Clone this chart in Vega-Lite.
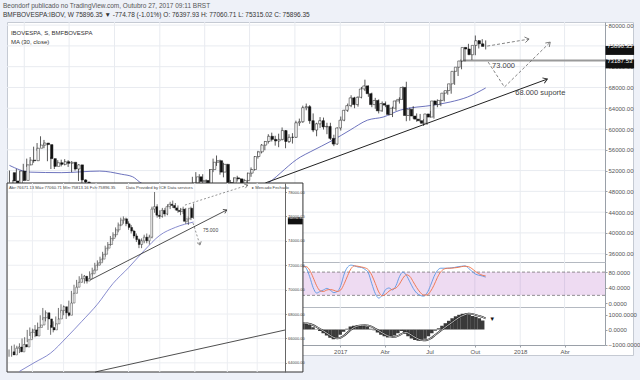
{
"$schema": "https://vega.github.io/schema/vega-lite/v6.json",
"width": 626,
"height": 333,
"autosize": {"type": "none"},
"padding": {"left": 7, "top": 22, "right": 7, "bottom": 25},
"background": "#eef1f8",
"config": {"view": {"fill": "#ffffff", "stroke": "#c5cad3", "strokeWidth": 1}, "font": "Liberation Sans"},
"title": {"text": "Beondorf publicado no TradingView.com, Outubro 27, 2017 09:11 BRST", "subtitle": "BMFBOVESPA:IBOV, W  75896.35 ▼ -774.78 (-1.01%)  O: 76397.93  H: 77060.71  L: 75315.02  C: 75896.35", "anchor": "start", "frame": "group", "dx": -4, "offset": 3, "font": "Liberation Sans", "fontSize": 6.5, "fontWeight": "normal", "color": "#555555", "subtitleFont": "Liberation Sans", "subtitleFontSize": 6.5, "subtitleFontWeight": "normal", "subtitleColor": "#333333", "subtitlePadding": 3},
"datasets": {
"w": [
{"d":"2015-03-02","o":51600,"h":52000,"l":49700,"c":50000},
{"d":"2015-03-09","o":50000,"h":50200,"l":47900,"c":48600},
{"d":"2015-03-16","o":48600,"h":52300,"l":48500,"c":51900},
{"d":"2015-03-23","o":51900,"h":52000,"l":50000,"c":50100},
{"d":"2015-03-30","o":50100,"h":53300,"l":50000,"c":53100},
{"d":"2015-04-06","o":53100,"h":54300,"l":52700,"c":54000},
{"d":"2015-04-13","o":54000,"h":54600,"l":53000,"c":53900},
{"d":"2015-04-20","o":53900,"h":56600,"l":53500,"c":56300},
{"d":"2015-04-27","o":56300,"h":57300,"l":55800,"c":56900},
{"d":"2015-05-04","o":56900,"h":58600,"l":56500,"c":57300},
{"d":"2015-05-11","o":57300,"h":57900,"l":56300,"c":57000},
{"d":"2015-05-18","o":57000,"h":57200,"l":53800,"c":54300},
{"d":"2015-05-25","o":54300,"h":54600,"l":52300,"c":52800},
{"d":"2015-06-01","o":52800,"h":53900,"l":52300,"c":53500},
{"d":"2015-06-08","o":53500,"h":54000,"l":52900,"c":53200},
{"d":"2015-06-15","o":53200,"h":54100,"l":52800,"c":53700},
{"d":"2015-06-22","o":53700,"h":54200,"l":53000,"c":53400},
{"d":"2015-06-29","o":53400,"h":54000,"l":52700,"c":53600},
{"d":"2015-07-06","o":53600,"h":53800,"l":51700,"c":52300},
{"d":"2015-07-13","o":52300,"h":53400,"l":52000,"c":53100},
{"d":"2015-07-20","o":53100,"h":53200,"l":50000,"c":50200},
{"d":"2015-07-27","o":50200,"h":51200,"l":49400,"c":49800},
{"d":"2015-08-03","o":49800,"h":50300,"l":48400,"c":48600},
{"d":"2015-08-10","o":48600,"h":49100,"l":47100,"c":48000},
{"d":"2015-08-17","o":48000,"h":48300,"l":46400,"c":46600},
{"d":"2015-08-24","o":46600,"h":47800,"l":44200,"c":47200},
{"d":"2015-08-31","o":47200,"h":47400,"l":45900,"c":46500},
{"d":"2015-09-07","o":46500,"h":47300,"l":45700,"c":46400},
{"d":"2015-09-14","o":46400,"h":48200,"l":46000,"c":47300},
{"d":"2015-09-21","o":47300,"h":47400,"l":44100,"c":45100},
{"d":"2015-09-28","o":45100,"h":47200,"l":44500,"c":47000},
{"d":"2015-10-05","o":47000,"h":48900,"l":46800,"c":47400},
{"d":"2015-10-12","o":47400,"h":48000,"l":46200,"c":47200},
{"d":"2015-10-19","o":47200,"h":48100,"l":46400,"c":47600},
{"d":"2015-10-26","o":47600,"h":47700,"l":45600,"c":45900},
{"d":"2015-11-02","o":45900,"h":47100,"l":45300,"c":46400},
{"d":"2015-11-09","o":46400,"h":47100,"l":45600,"c":46300},
{"d":"2015-11-16","o":46300,"h":48300,"l":46200,"c":47800},
{"d":"2015-11-23","o":47800,"h":48000,"l":44900,"c":45100},
{"d":"2015-11-30","o":45100,"h":46500,"l":44400,"c":45400},
{"d":"2015-12-07","o":45400,"h":45500,"l":44000,"c":44800},
{"d":"2015-12-14","o":44800,"h":45800,"l":43200,"c":43900},
{"d":"2015-12-21","o":43900,"h":44000,"l":43000,"c":43700},
{"d":"2015-12-28","o":43700,"h":43800,"l":42900,"c":43400},
{"d":"2016-01-04","o":43400,"h":43400,"l":40900,"c":41800},
{"d":"2016-01-11","o":41800,"h":42000,"l":38500,"c":38600},
{"d":"2016-01-18","o":38600,"h":39700,"l":37500,"c":38000},
{"d":"2016-01-25","o":38000,"h":40600,"l":37000,"c":40400},
{"d":"2016-02-01","o":40400,"h":41100,"l":39200,"c":40600},
{"d":"2016-02-08","o":40600,"h":40700,"l":39300,"c":40100},
{"d":"2016-02-15","o":40100,"h":42300,"l":40000,"c":41500},
{"d":"2016-02-22","o":41500,"h":42400,"l":40500,"c":42100},
{"d":"2016-02-29","o":42100,"h":49100,"l":41800,"c":49000},
{"d":"2016-03-07","o":49000,"h":50800,"l":47900,"c":49600},
{"d":"2016-03-14","o":49600,"h":51700,"l":47800,"c":50800},
{"d":"2016-03-21","o":50800,"h":51300,"l":49000,"c":49900},
{"d":"2016-03-28","o":49900,"h":51300,"l":48600,"c":50100},
{"d":"2016-04-04","o":50100,"h":50300,"l":47900,"c":48800},
{"d":"2016-04-11","o":48800,"h":52300,"l":48700,"c":52200},
{"d":"2016-04-18","o":52200,"h":54300,"l":51700,"c":53600},
{"d":"2016-04-25","o":53600,"h":54900,"l":52900,"c":53900},
{"d":"2016-05-02","o":53900,"h":54100,"l":51200,"c":51700},
{"d":"2016-05-09","o":51700,"h":53500,"l":50700,"c":53200},
{"d":"2016-05-16","o":53200,"h":53300,"l":49400,"c":49700},
{"d":"2016-05-23","o":49700,"h":50200,"l":48700,"c":49300},
{"d":"2016-05-30","o":49300,"h":50700,"l":48500,"c":50600},
{"d":"2016-06-06","o":50600,"h":51000,"l":49900,"c":50400},
{"d":"2016-06-13","o":50400,"h":50500,"l":48900,"c":49500},
{"d":"2016-06-20","o":49500,"h":50400,"l":48800,"c":50100},
{"d":"2016-06-27","o":50100,"h":51600,"l":49000,"c":51500},
{"d":"2016-07-04","o":51500,"h":52600,"l":50800,"c":52200},
{"d":"2016-07-11","o":52200,"h":54800,"l":52000,"c":54700},
{"d":"2016-07-18","o":54700,"h":55800,"l":54300,"c":55600},
{"d":"2016-07-25","o":55600,"h":57100,"l":55300,"c":56900},
{"d":"2016-08-01","o":56900,"h":57700,"l":55900,"c":57600},
{"d":"2016-08-08","o":57600,"h":59000,"l":57200,"c":58600},
{"d":"2016-08-15","o":58600,"h":59300,"l":57600,"c":58000},
{"d":"2016-08-22","o":58000,"h":58700,"l":56800,"c":57700},
{"d":"2016-08-29","o":57700,"h":59100,"l":56500,"c":58000},
{"d":"2016-09-05","o":58000,"h":60300,"l":57800,"c":59700},
{"d":"2016-09-12","o":59700,"h":59800,"l":56300,"c":57600},
{"d":"2016-09-19","o":57600,"h":59000,"l":57300,"c":58400},
{"d":"2016-09-26","o":58400,"h":59200,"l":57200,"c":58400},
{"d":"2016-10-03","o":58400,"h":61600,"l":58300,"c":61200},
{"d":"2016-10-10","o":61200,"h":62000,"l":60600,"c":61400},
{"d":"2016-10-17","o":61400,"h":64500,"l":61200,"c":64100},
{"d":"2016-10-24","o":64100,"h":64900,"l":63600,"c":64300},
{"d":"2016-10-31","o":64300,"h":64600,"l":61000,"c":61600},
{"d":"2016-11-07","o":61600,"h":63000,"l":59400,"c":59800},
{"d":"2016-11-14","o":59800,"h":61200,"l":58600,"c":61000},
{"d":"2016-11-21","o":61000,"h":62300,"l":60200,"c":61600},
{"d":"2016-11-28","o":61600,"h":62200,"l":59900,"c":60400},
{"d":"2016-12-05","o":60400,"h":61200,"l":59000,"c":60500},
{"d":"2016-12-12","o":60500,"h":61200,"l":57900,"c":58200},
{"d":"2016-12-19","o":58200,"h":58900,"l":56700,"c":57100},
{"d":"2016-12-26","o":57100,"h":60300,"l":57000,"c":60200},
{"d":"2017-01-02","o":60200,"h":62400,"l":59700,"c":61700},
{"d":"2017-01-09","o":61700,"h":63700,"l":61500,"c":63600},
{"d":"2017-01-16","o":63600,"h":64900,"l":63300,"c":64500},
{"d":"2017-01-23","o":64500,"h":66500,"l":64200,"c":66000},
{"d":"2017-01-30","o":66000,"h":66200,"l":64000,"c":64700},
{"d":"2017-02-06","o":64700,"h":66300,"l":64300,"c":66100},
{"d":"2017-02-13","o":66100,"h":68100,"l":65900,"c":67700},
{"d":"2017-02-20","o":67700,"h":69500,"l":67300,"c":68300},
{"d":"2017-02-27","o":68300,"h":68400,"l":66200,"c":66800},
{"d":"2017-03-06","o":66800,"h":67000,"l":64200,"c":64700},
{"d":"2017-03-13","o":64700,"h":66000,"l":63900,"c":65500},
{"d":"2017-03-20","o":65500,"h":65700,"l":63000,"c":63500},
{"d":"2017-03-27","o":63500,"h":65300,"l":63300,"c":64900},
{"d":"2017-04-03","o":64900,"h":65300,"l":64200,"c":64600},
{"d":"2017-04-10","o":64600,"h":64700,"l":62600,"c":62800},
{"d":"2017-04-17","o":62800,"h":64300,"l":62300,"c":64000},
{"d":"2017-04-24","o":64000,"h":65500,"l":63500,"c":65400},
{"d":"2017-05-01","o":65400,"h":66100,"l":64900,"c":65700},
{"d":"2017-05-08","o":65700,"h":68200,"l":65600,"c":68000},
{"d":"2017-05-15","o":68000,"h":69100,"l":61500,"c":62600},
{"d":"2017-05-22","o":62600,"h":64100,"l":61600,"c":63800},
{"d":"2017-05-29","o":63800,"h":64400,"l":62000,"c":62500},
{"d":"2017-06-05","o":62500,"h":63000,"l":61400,"c":61900},
{"d":"2017-06-12","o":61900,"h":62900,"l":61300,"c":61600},
{"d":"2017-06-19","o":61600,"h":61900,"l":60600,"c":61100},
{"d":"2017-06-26","o":61100,"h":62900,"l":60800,"c":62900},
{"d":"2017-07-03","o":62900,"h":63500,"l":62200,"c":62300},
{"d":"2017-07-10","o":62300,"h":65500,"l":62000,"c":65400},
{"d":"2017-07-17","o":65400,"h":65700,"l":64200,"c":64700},
{"d":"2017-07-24","o":64700,"h":65700,"l":64400,"c":65500},
{"d":"2017-07-31","o":65500,"h":67300,"l":65300,"c":66900},
{"d":"2017-08-07","o":66900,"h":68100,"l":66600,"c":67400},
{"d":"2017-08-14","o":67400,"h":68700,"l":66800,"c":68700},
{"d":"2017-08-21","o":68700,"h":71300,"l":68500,"c":71100},
{"d":"2017-08-28","o":71100,"h":72000,"l":70200,"c":71900},
{"d":"2017-09-04","o":71900,"h":73400,"l":71500,"c":73100},
{"d":"2017-09-11","o":73100,"h":75800,"l":73000,"c":75700},
{"d":"2017-09-18","o":75700,"h":76400,"l":74800,"c":75400},
{"d":"2017-09-25","o":75400,"h":75600,"l":73300,"c":74300},
{"d":"2017-10-02","o":74300,"h":78000,"l":74200,"c":76100},
{"d":"2017-10-09","o":76100,"h":77100,"l":75500,"c":77000},
{"d":"2017-10-16","o":77000,"h":77300,"l":76000,"c":76400},
{"d":"2017-10-23","o":76397.93,"h":77060.71,"l":75315.02,"c":75896.35}
],
"ma": [
{"d":"2015-03-02","v":53000},{"d":"2015-04-13","v":51700},{"d":"2015-06-15","v":51600},{"d":"2015-09-01","v":51900},{"d":"2015-10-15","v":51300},{"d":"2015-11-07","v":50800},{"d":"2015-11-21","v":49800},{"d":"2016-01-15","v":47200},{"d":"2016-03-15","v":45200},{"d":"2016-05-15","v":45500},{"d":"2016-07-01","v":47300},{"d":"2016-08-08","v":49600},{"d":"2016-10-12","v":54600},{"d":"2016-11-01","v":55600},{"d":"2016-12-18","v":57900},{"d":"2017-01-21","v":59800},{"d":"2017-02-25","v":61700},{"d":"2017-03-29","v":62300},{"d":"2017-05-03","v":63650},{"d":"2017-07-09","v":64600},{"d":"2017-08-12","v":65200},{"d":"2017-09-16","v":66150},{"d":"2017-10-23","v":67900}
],
"st": [
{"d":"2016-09-26","k":80,"dd":85},{"d":"2016-10-03","k":88,"dd":84},{"d":"2016-10-10","k":93,"dd":89},{"d":"2016-10-17","k":97,"dd":93},{"d":"2016-10-24","k":90,"dd":94},{"d":"2016-10-31","k":68,"dd":85},{"d":"2016-11-07","k":40,"dd":66},{"d":"2016-11-14","k":26,"dd":45},{"d":"2016-11-21","k":30,"dd":32},{"d":"2016-11-28","k":34,"dd":30},{"d":"2016-12-05","k":38,"dd":34},{"d":"2016-12-12","k":33,"dd":35},{"d":"2016-12-19","k":27,"dd":33},{"d":"2016-12-26","k":30,"dd":30},{"d":"2017-01-02","k":45,"dd":34},{"d":"2017-01-09","k":75,"dd":50},{"d":"2017-01-16","k":93,"dd":71},{"d":"2017-01-23","k":98,"dd":89},{"d":"2017-01-30","k":96,"dd":96},{"d":"2017-02-06","k":93,"dd":95},{"d":"2017-02-13","k":92,"dd":93},{"d":"2017-02-20","k":87,"dd":91},{"d":"2017-02-27","k":78,"dd":86},{"d":"2017-03-06","k":50,"dd":72},{"d":"2017-03-13","k":25,"dd":51},{"d":"2017-03-20","k":13,"dd":29},{"d":"2017-03-27","k":20,"dd":19},{"d":"2017-04-03","k":35,"dd":23},{"d":"2017-04-10","k":39,"dd":31},{"d":"2017-04-17","k":34,"dd":36},{"d":"2017-04-24","k":45,"dd":39},{"d":"2017-05-01","k":68,"dd":49},{"d":"2017-05-08","k":80,"dd":64},{"d":"2017-05-15","k":72,"dd":73},{"d":"2017-05-22","k":55,"dd":69},{"d":"2017-05-29","k":38,"dd":55},{"d":"2017-06-05","k":26,"dd":40},{"d":"2017-06-12","k":20,"dd":28},{"d":"2017-06-19","k":18,"dd":21},{"d":"2017-06-26","k":26,"dd":21},{"d":"2017-07-03","k":45,"dd":30},{"d":"2017-07-10","k":68,"dd":46},{"d":"2017-07-17","k":84,"dd":66},{"d":"2017-07-24","k":90,"dd":81},{"d":"2017-07-31","k":90,"dd":88},{"d":"2017-08-07","k":90,"dd":90},{"d":"2017-08-14","k":91,"dd":90},{"d":"2017-08-21","k":92,"dd":91},{"d":"2017-08-28","k":94,"dd":92},{"d":"2017-09-04","k":95,"dd":94},{"d":"2017-09-11","k":96,"dd":95},{"d":"2017-09-18","k":90,"dd":94},{"d":"2017-09-25","k":82,"dd":89},{"d":"2017-10-02","k":75,"dd":82},{"d":"2017-10-09","k":72,"dd":76},{"d":"2017-10-16","k":70,"dd":72},{"d":"2017-10-23","k":67,"dd":70}
],
"mc": [
{"d":"2016-09-26","h":500,"s":520},{"d":"2016-10-03","h":450,"s":500},{"d":"2016-10-10","h":420,"s":470},{"d":"2016-10-17","h":400,"s":440},{"d":"2016-10-24","h":380,"s":410},{"d":"2016-10-31","h":300,"s":370},{"d":"2016-11-07","h":150,"s":290},{"d":"2016-11-14","h":20,"s":170},{"d":"2016-11-21","h":-100,"s":40},{"d":"2016-11-28","h":-250,"s":-100},{"d":"2016-12-05","h":-400,"s":-250},{"d":"2016-12-12","h":-550,"s":-400},{"d":"2016-12-19","h":-650,"s":-530},{"d":"2016-12-26","h":-550,"s":-590},{"d":"2017-01-02","h":-350,"s":-540},{"d":"2017-01-09","h":-150,"s":-400},{"d":"2017-01-16","h":50,"s":-200},{"d":"2017-01-23","h":200,"s":0},{"d":"2017-01-30","h":250,"s":150},{"d":"2017-02-06","h":280,"s":240},{"d":"2017-02-13","h":300,"s":280},{"d":"2017-02-20","h":280,"s":290},{"d":"2017-02-27","h":200,"s":260},{"d":"2017-03-06","h":50,"s":180},{"d":"2017-03-13","h":-50,"s":50},{"d":"2017-03-20","h":-200,"s":-80},{"d":"2017-03-27","h":-350,"s":-220},{"d":"2017-04-03","h":-450,"s":-350},{"d":"2017-04-10","h":-530,"s":-450},{"d":"2017-04-17","h":-500,"s":-500},{"d":"2017-04-24","h":-400,"s":-470},{"d":"2017-05-01","h":-250,"s":-380},{"d":"2017-05-08","h":-100,"s":-250},{"d":"2017-05-15","h":-250,"s":-200},{"d":"2017-05-22","h":-450,"s":-300},{"d":"2017-05-29","h":-600,"s":-450},{"d":"2017-06-05","h":-700,"s":-580},{"d":"2017-06-12","h":-750,"s":-680},{"d":"2017-06-19","h":-730,"s":-720},{"d":"2017-06-26","h":-620,"s":-700},{"d":"2017-07-03","h":-450,"s":-600},{"d":"2017-07-10","h":-250,"s":-430},{"d":"2017-07-17","h":-80,"s":-250},{"d":"2017-07-24","h":80,"s":-70},{"d":"2017-07-31","h":250,"s":100},{"d":"2017-08-07","h":420,"s":270},{"d":"2017-08-14","h":580,"s":430},{"d":"2017-08-21","h":750,"s":600},{"d":"2017-08-28","h":880,"s":760},{"d":"2017-09-04","h":980,"s":890},{"d":"2017-09-11","h":1050,"s":990},{"d":"2017-09-18","h":1060,"s":1050},{"d":"2017-09-25","h":980,"s":1040},{"d":"2017-10-02","h":900,"s":980},{"d":"2017-10-09","h":850,"s":910},{"d":"2017-10-16","h":750,"s":840},{"d":"2017-10-23","h":600,"s":730}
],
"q": [{"d":"2015-04-01"},{"d":"2015-07-01"},{"d":"2015-10-01"},{"d":"2016-01-01"},{"d":"2016-04-01"},{"d":"2016-07-01"},{"d":"2016-10-01"},{"d":"2017-01-01"},{"d":"2017-04-01"},{"d":"2017-07-01"},{"d":"2017-10-01"},{"d":"2018-01-01"},{"d":"2018-04-01"}],
"pg": [{"p":36000},{"p":40000},{"p":44000},{"p":48000},{"p":52000},{"p":56000},{"p":60000},{"p":64000},{"p":68000},{"p":72000},{"p":76000},{"p":80000}],
"dl": [
{"d":"2017-07-18","n":0,"o":64900,"h":65100,"l":64500,"c":64650},
{"d":"2017-07-19","n":1,"o":64650,"h":65400,"l":64500,"c":65200},
{"d":"2017-07-20","n":2,"o":65200,"h":65500,"l":64800,"c":65300},
{"d":"2017-07-21","n":3,"o":65300,"h":65400,"l":64700,"c":64900},
{"d":"2017-07-24","n":4,"o":64900,"h":65600,"l":64800,"c":65500},
{"d":"2017-07-25","n":5,"o":65500,"h":66000,"l":65100,"c":65300},
{"d":"2017-07-26","n":6,"o":65300,"h":66100,"l":65200,"c":65900},
{"d":"2017-07-27","n":7,"o":65900,"h":66700,"l":65700,"c":66500},
{"d":"2017-07-28","n":8,"o":66500,"h":66900,"l":66200,"c":66700},
{"d":"2017-07-31","n":9,"o":66700,"h":66800,"l":66000,"c":66200},
{"d":"2017-08-01","n":10,"o":66200,"h":67100,"l":66100,"c":66900},
{"d":"2017-08-02","n":11,"o":66900,"h":67300,"l":66600,"c":67100},
{"d":"2017-08-03","n":12,"o":67100,"h":67900,"l":66900,"c":67700},
{"d":"2017-08-04","n":13,"o":67700,"h":68500,"l":67500,"c":68100},
{"d":"2017-08-07","n":14,"o":68100,"h":68300,"l":67400,"c":67600},
{"d":"2017-08-08","n":15,"o":67600,"h":67800,"l":66700,"c":66900},
{"d":"2017-08-09","n":16,"o":66900,"h":67100,"l":66300,"c":66700},
{"d":"2017-08-10","n":17,"o":66700,"h":67400,"l":66500,"c":67200},
{"d":"2017-08-11","n":18,"o":67200,"h":67800,"l":67000,"c":67600},
{"d":"2017-08-14","n":19,"o":67600,"h":68500,"l":67500,"c":68300},
{"d":"2017-08-15","n":20,"o":68300,"h":68800,"l":68100,"c":68600},
{"d":"2017-08-16","n":21,"o":68600,"h":68700,"l":67900,"c":68100},
{"d":"2017-08-17","n":22,"o":68100,"h":68300,"l":67600,"c":67900},
{"d":"2017-08-18","n":23,"o":67900,"h":69100,"l":67800,"c":68900},
{"d":"2017-08-21","n":24,"o":68900,"h":69900,"l":68700,"c":69700},
{"d":"2017-08-22","n":25,"o":69700,"h":70400,"l":69500,"c":70200},
{"d":"2017-08-23","n":26,"o":70200,"h":70800,"l":70000,"c":70600},
{"d":"2017-08-24","n":27,"o":70600,"h":71100,"l":70400,"c":70900},
{"d":"2017-08-25","n":28,"o":70900,"h":71300,"l":70600,"c":71100},
{"d":"2017-08-28","n":29,"o":71100,"h":71200,"l":70500,"c":70700},
{"d":"2017-08-29","n":30,"o":70700,"h":71100,"l":70500,"c":70900},
{"d":"2017-08-30","n":31,"o":70900,"h":71500,"l":70800,"c":71300},
{"d":"2017-08-31","n":32,"o":71300,"h":71800,"l":71100,"c":71600},
{"d":"2017-09-01","n":33,"o":71600,"h":72200,"l":71400,"c":72000},
{"d":"2017-09-04","n":34,"o":72000,"h":72400,"l":71800,"c":72200},
{"d":"2017-09-05","n":35,"o":72200,"h":72700,"l":72000,"c":72500},
{"d":"2017-09-06","n":36,"o":72500,"h":73100,"l":72300,"c":72900},
{"d":"2017-09-08","n":37,"o":72900,"h":73600,"l":72700,"c":73400},
{"d":"2017-09-11","n":38,"o":73400,"h":73900,"l":73200,"c":73700},
{"d":"2017-09-12","n":39,"o":73700,"h":74400,"l":73600,"c":74200},
{"d":"2017-09-13","n":40,"o":74200,"h":74700,"l":74000,"c":74500},
{"d":"2017-09-14","n":41,"o":74500,"h":75100,"l":74300,"c":74900},
{"d":"2017-09-15","n":42,"o":74900,"h":75500,"l":74700,"c":75300},
{"d":"2017-09-18","n":43,"o":75300,"h":75900,"l":75200,"c":75700},
{"d":"2017-09-19","n":44,"o":75700,"h":76000,"l":75400,"c":75800},
{"d":"2017-09-20","n":45,"o":75800,"h":75900,"l":75200,"c":75400},
{"d":"2017-09-21","n":46,"o":75400,"h":75600,"l":74900,"c":75100},
{"d":"2017-09-22","n":47,"o":75100,"h":75300,"l":74600,"c":74800},
{"d":"2017-09-25","n":48,"o":74800,"h":74900,"l":74200,"c":74400},
{"d":"2017-09-26","n":49,"o":74400,"h":74600,"l":73900,"c":74100},
{"d":"2017-09-27","n":50,"o":74100,"h":74200,"l":73400,"c":73700},
{"d":"2017-09-28","n":51,"o":73700,"h":74200,"l":73400,"c":74000},
{"d":"2017-09-29","n":52,"o":74000,"h":74500,"l":73800,"c":74300},
{"d":"2017-10-02","n":53,"o":74300,"h":74600,"l":73800,"c":74000},
{"d":"2017-10-03","n":54,"o":74000,"h":74500,"l":73700,"c":74300},
{"d":"2017-10-04","n":55,"o":74300,"h":76800,"l":74200,"c":76600},
{"d":"2017-10-05","n":56,"o":76600,"h":78000,"l":76300,"c":76800},
{"d":"2017-10-06","n":57,"o":76800,"h":77000,"l":75900,"c":76100},
{"d":"2017-10-09","n":58,"o":76100,"h":76500,"l":75800,"c":76000},
{"d":"2017-10-10","n":59,"o":76000,"h":76700,"l":75900,"c":76500},
{"d":"2017-10-11","n":60,"o":76500,"h":76700,"l":76000,"c":76200},
{"d":"2017-10-13","n":61,"o":76200,"h":77000,"l":76100,"c":76800},
{"d":"2017-10-16","n":62,"o":76800,"h":77200,"l":76600,"c":77000},
{"d":"2017-10-17","n":63,"o":77000,"h":77300,"l":76700,"c":76900},
{"d":"2017-10-18","n":64,"o":76900,"h":77100,"l":76500,"c":76700},
{"d":"2017-10-19","n":65,"o":76700,"h":76900,"l":76300,"c":76500},
{"d":"2017-10-20","n":66,"o":76500,"h":76700,"l":76100,"c":76400},
{"d":"2017-10-23","n":67,"o":76400,"h":76800,"l":76200,"c":76600},
{"d":"2017-10-24","n":68,"o":76600,"h":76700,"l":75400,"c":75600},
{"d":"2017-10-25","n":69,"o":75600,"h":76000,"l":75300,"c":75800},
{"d":"2017-10-26","n":70,"o":75800,"h":76800,"l":75700,"c":76671.13},
{"d":"2017-10-27","n":71,"o":76671.13,"h":77060.71,"l":75813.16,"c":75896.35}
],
"ima": [{"n":4,"v":63300},{"n":10,"v":64050},{"n":16,"v":64800},{"n":22,"v":66050},{"n":28,"v":67400},{"n":34,"v":68800},{"n":40,"v":70500},{"n":46,"v":71800},{"n":52,"v":73200},{"n":58,"v":74450},{"n":64,"v":75100},{"n":71,"v":75540}],
"ig": [{"p":64000},{"p":66000},{"p":68000},{"p":70000},{"p":72000},{"p":74000},{"p":76000},{"p":78000}],
"ix": [{"n":9},{"n":21},{"n":33.5},{"n":46},{"n":58},{"n":71.5},{"n":84},{"n":95.5}]
},
"layer": [
{"data": {"name": "pg"}, "mark": {"type": "rule", "color": "#e8ebf0", "strokeWidth": 1},
 "encoding": {
  "y": {"field": "p", "type": "quantitative", "scale": {"domain": [34400, 80600], "range": [240, 0], "nice": false, "zero": false},
        "axis": {"orient": "right", "offset": -28, "values": [36000,40000,44000,48000,52000,56000,60000,64000,68000,72000,76000,80000], "format": ".2f", "title": null, "grid": false, "domain": true, "domainColor": "#9aa0a8", "ticks": true, "tickSize": 2, "tickColor": "#9aa0a8", "labelFontSize": 6, "labelColor": "#555555", "labelPadding": 1, "labelOverlap": false, "labelBound": false, "labelFlush": false}},
  "x": {"datum": {"year": 2015, "month": 2, "date": 25, "utc": true}, "type": "temporal", "scale": {"type": "utc", "domain": [{"year": 2015, "month": 2, "date": 25, "utc": true}, {"year": 2018, "month": 6, "date": 22, "utc": true}], "range": [0, 598], "nice": false}, "axis": null},
  "x2": {"datum": {"year": 2018, "month": 6, "date": 22, "utc": true}}
 }},
{"data": {"name": "q"}, "mark": {"type": "rule", "color": "#e8ebf0", "strokeWidth": 1},
 "encoding": {
  "x": {"field": "d", "type": "temporal", "scale": {"type": "utc", "domain": [{"year": 2015, "month": 2, "date": 25, "utc": true}, {"year": 2018, "month": 6, "date": 22, "utc": true}], "range": [0, 598], "nice": false},
        "axis": {"orient": "bottom", "offset": -93, "domain": true, "domainColor": "#b4b9c1", "ticks": false, "labels": false, "grid": false, "title": null}},
  "y": {"datum": 80600, "type": "quantitative", "scale": {"domain": [34400, 80600], "range": [240, 0], "nice": false, "zero": false}, "axis": null},
  "y2": {"datum": 34400}
 }},
{"data": {"name": "ma"}, "mark": {"type": "line", "color": "#5c63b5", "strokeWidth": 0.9, "interpolate": "monotone"},
 "encoding": {"x": {"field": "d", "type": "temporal", "scale": {"type": "utc", "domain": [{"year": 2015, "month": 2, "date": 25, "utc": true}, {"year": 2018, "month": 6, "date": 22, "utc": true}], "range": [0, 598], "nice": false}, "axis": null}, "y": {"field": "v", "type": "quantitative", "scale": {"domain": [34400, 80600], "range": [240, 0], "nice": false, "zero": false}, "axis": null}}},
{"data": {"values": [{"d": "2016-08-02", "p": 49615}, {"d": "2018-02-25", "p": 69615}]}, "mark": {"type": "line", "color": "#222222", "strokeWidth": 1},
 "encoding": {"x": {"field": "d", "type": "temporal", "scale": {"type": "utc", "domain": [{"year": 2015, "month": 2, "date": 25, "utc": true}, {"year": 2018, "month": 6, "date": 22, "utc": true}], "range": [0, 598], "nice": false}, "axis": null}, "y": {"field": "p", "type": "quantitative", "scale": {"domain": [34400, 80600], "range": [240, 0], "nice": false, "zero": false}, "axis": null}}},
{"data": {"values": [{"v": 73187.53}]}, "mark": {"type": "rule", "color": "#9a9a9a", "strokeWidth": 2},
 "encoding": {"y": {"field": "v", "type": "quantitative", "scale": {"domain": [34400, 80600], "range": [240, 0], "nice": false, "zero": false}, "axis": null}, "x": {"datum": {"year": 2017, "month": 9, "date": 1, "utc": true}, "type": "temporal", "scale": {"type": "utc", "domain": [{"year": 2015, "month": 2, "date": 25, "utc": true}, {"year": 2018, "month": 6, "date": 22, "utc": true}], "range": [0, 598], "nice": false}, "axis": null}, "x2": {"datum": {"year": 2018, "month": 6, "date": 22, "utc": true}}}},
{"data": {"values": [{"g": "a", "d": "2017-10-26", "p": 75960}, {"g": "a", "d": "2018-01-19", "p": 77310}, {"g": "b", "d": "2017-10-28", "p": 72885}, {"g": "b", "d": "2017-11-30", "p": 68077}, {"g": "b", "d": "2018-03-03", "p": 76730}]},
 "mark": {"type": "line", "color": "#666666", "strokeWidth": 0.8, "strokeDash": [3, 2]},
 "encoding": {"x": {"field": "d", "type": "temporal", "scale": {"type": "utc", "domain": [{"year": 2015, "month": 2, "date": 25, "utc": true}, {"year": 2018, "month": 6, "date": 22, "utc": true}], "range": [0, 598], "nice": false}, "axis": null}, "y": {"field": "p", "type": "quantitative", "scale": {"domain": [34400, 80600], "range": [240, 0], "nice": false, "zero": false}, "axis": null}, "detail": {"field": "g"}}},
{"data": {"name": "w"}, "mark": {"type": "rule", "color": "#111111", "strokeWidth": 0.7},
 "encoding": {"x": {"field": "d", "type": "temporal", "scale": {"type": "utc", "domain": [{"year": 2015, "month": 2, "date": 25, "utc": true}, {"year": 2018, "month": 6, "date": 22, "utc": true}], "range": [0, 598], "nice": false}, "axis": null}, "y": {"field": "l", "type": "quantitative", "scale": {"domain": [34400, 80600], "range": [240, 0], "nice": false, "zero": false}, "axis": null}, "y2": {"field": "h"}}},
{"data": {"name": "w"}, "mark": {"type": "bar", "orient": "vertical", "size": 2.4, "stroke": "#111111", "strokeWidth": 0.5},
 "encoding": {"x": {"field": "d", "type": "temporal", "scale": {"type": "utc", "domain": [{"year": 2015, "month": 2, "date": 25, "utc": true}, {"year": 2018, "month": 6, "date": 22, "utc": true}], "range": [0, 598], "nice": false}, "axis": null}, "y": {"field": "o", "type": "quantitative", "scale": {"domain": [34400, 80600], "range": [240, 0], "nice": false, "zero": false}, "axis": null}, "y2": {"field": "c"},
  "fill": {"condition": {"test": "datum.c >= datum.o", "value": "#ffffff"}, "value": "#111111"}}},
{"data": {"values": [{"d": "2018-01-19", "p": 77310, "a": 80.5}, {"d": "2018-03-03", "p": 76730, "a": 45.6}]}, "mark": {"type": "point", "shape": "M-0.8,1.2L0,0L0.8,1.2", "size": 49, "filled": false, "stroke": "#666666", "strokeWidth": 0.8, "opacity": 1},
 "encoding": {"x": {"field": "d", "type": "temporal", "scale": {"type": "utc", "domain": [{"year": 2015, "month": 2, "date": 25, "utc": true}, {"year": 2018, "month": 6, "date": 22, "utc": true}], "range": [0, 598], "nice": false}, "axis": null}, "y": {"field": "p", "type": "quantitative", "scale": {"domain": [34400, 80600], "range": [240, 0], "nice": false, "zero": false}, "axis": null}, "angle": {"field": "a", "type": "quantitative", "scale": null}}},
{"data": {"values": [{"d": "2018-02-25", "p": 69615}]}, "mark": {"type": "point", "shape": "M-0.8,1.2L0,0L0.8,1.2", "size": 49, "angle": 69.8, "filled": false, "stroke": "#222222", "strokeWidth": 0.9, "opacity": 1},
 "encoding": {"x": {"field": "d", "type": "temporal", "scale": {"type": "utc", "domain": [{"year": 2015, "month": 2, "date": 25, "utc": true}, {"year": 2018, "month": 6, "date": 22, "utc": true}], "range": [0, 598], "nice": false}, "axis": null}, "y": {"field": "p", "type": "quantitative", "scale": {"domain": [34400, 80600], "range": [240, 0], "nice": false, "zero": false}, "axis": null}}},
{"data": {"values": [{"d": "2015-03-05", "p": 78460, "t": "IBOVESPA, S, BMFBOVESPA"}, {"d": "2015-03-05", "p": 76730, "t": "MA (30, close)"}]},
 "mark": {"type": "text", "align": "left", "baseline": "middle", "fontSize": 6, "color": "#333333"},
 "encoding": {"x": {"field": "d", "type": "temporal", "scale": {"type": "utc", "domain": [{"year": 2015, "month": 2, "date": 25, "utc": true}, {"year": 2018, "month": 6, "date": 22, "utc": true}], "range": [0, 598], "nice": false}, "axis": null}, "y": {"field": "p", "type": "quantitative", "scale": {"domain": [34400, 80600], "range": [240, 0], "nice": false, "zero": false}, "axis": null}, "text": {"field": "t"}}},
{"data": {"values": [{"d": "2017-11-05", "p": 72115, "t": "73.000"}, {"d": "2017-12-22", "p": 66925, "t": "68.000 suporte"}]},
 "mark": {"type": "text", "align": "left", "baseline": "middle", "fontSize": 7.5, "color": "#444444"},
 "encoding": {"x": {"field": "d", "type": "temporal", "scale": {"type": "utc", "domain": [{"year": 2015, "month": 2, "date": 25, "utc": true}, {"year": 2018, "month": 6, "date": 22, "utc": true}], "range": [0, 598], "nice": false}, "axis": null}, "y": {"field": "p", "type": "quantitative", "scale": {"domain": [34400, 80600], "range": [240, 0], "nice": false, "zero": false}, "axis": null}, "text": {"field": "t"}}},
{"data": {"values": [{"v": 75896.35}, {"v": 73187.53}]},
 "mark": {"type": "bar", "orient": "horizontal", "size": 9, "color": "#111111"},
 "encoding": {"y": {"field": "v", "type": "quantitative", "scale": {"domain": [34400, 80600], "range": [240, 0], "nice": false, "zero": false}, "axis": null}, "x": {"datum": {"year": 2018, "month": 6, "date": 23, "utc": true}, "type": "temporal", "scale": {"type": "utc", "domain": [{"year": 2015, "month": 2, "date": 25, "utc": true}, {"year": 2018, "month": 6, "date": 22, "utc": true}], "range": [0, 598], "nice": false}, "axis": null}, "x2": {"datum": {"year": 2018, "month": 8, "date": 20, "utc": true}}}},
{"data": {"values": [{"v": 75896.35, "t": "75896.35"}, {"v": 73187.53, "t": "73187.53"}]},
 "mark": {"type": "text", "align": "center", "baseline": "middle", "fontSize": 6, "color": "#ffffff"},
 "encoding": {"y": {"field": "v", "type": "quantitative", "scale": {"domain": [34400, 80600], "range": [240, 0], "nice": false, "zero": false}, "axis": null}, "x": {"datum": {"year": 2018, "month": 7, "date": 22, "utc": true}, "type": "temporal", "scale": {"type": "utc", "domain": [{"year": 2015, "month": 2, "date": 25, "utc": true}, {"year": 2018, "month": 6, "date": 22, "utc": true}], "range": [0, 598], "nice": false}, "axis": null}, "text": {"field": "t"}}},

{"data": {"name": "q"}, "mark": {"type": "rule", "color": "#e8ebf0", "strokeWidth": 1},
 "encoding": {
  "x": {"field": "d", "type": "temporal", "scale": {"type": "utc", "domain": [{"year": 2015, "month": 2, "date": 25, "utc": true}, {"year": 2018, "month": 6, "date": 22, "utc": true}], "range": [0, 598], "nice": false},
        "axis": {"orient": "bottom", "offset": -48, "domain": true, "domainColor": "#b4b9c1", "ticks": false, "labels": false, "grid": false, "title": null}},
  "y": {"datum": 106, "type": "quantitative", "scale": {"domain": [-10, 106], "range": [285, 240], "nice": false, "zero": false}, "axis": null},
  "y2": {"datum": -10}
 }},
{"data": {"values": [{"a": 20, "b": 80}]}, "mark": {"type": "rect", "color": "#9c27b0", "fillOpacity": 0.17},
 "encoding": {
  "y": {"field": "a", "type": "quantitative", "scale": {"domain": [-10, 106], "range": [285, 240], "nice": false, "zero": false},
        "axis": {"orient": "right", "offset": -28, "values": [0, 40, 80], "format": ".4f", "title": null, "grid": false, "domain": true, "domainColor": "#9aa0a8", "ticks": true, "tickSize": 2, "tickColor": "#9aa0a8", "labelFontSize": 6, "labelColor": "#555555", "labelPadding": 1, "labelOverlap": false, "labelBound": false, "labelFlush": false}},
  "y2": {"field": "b"},
  "x": {"datum": {"year": 2015, "month": 2, "date": 25, "utc": true}, "type": "temporal", "scale": {"type": "utc", "domain": [{"year": 2015, "month": 2, "date": 25, "utc": true}, {"year": 2018, "month": 6, "date": 22, "utc": true}], "range": [0, 598], "nice": false}, "axis": null},
  "x2": {"datum": {"year": 2018, "month": 6, "date": 22, "utc": true}}
 }},
{"data": {"values": [{"v": 20}, {"v": 80}]}, "mark": {"type": "rule", "color": "#666666", "strokeWidth": 0.7, "strokeDash": [3, 2]},
 "encoding": {"y": {"field": "v", "type": "quantitative", "scale": {"domain": [-10, 106], "range": [285, 240], "nice": false, "zero": false}, "axis": null}, "x": {"datum": {"year": 2015, "month": 2, "date": 25, "utc": true}, "type": "temporal", "scale": {"type": "utc", "domain": [{"year": 2015, "month": 2, "date": 25, "utc": true}, {"year": 2018, "month": 6, "date": 22, "utc": true}], "range": [0, 598], "nice": false}, "axis": null}, "x2": {"datum": {"year": 2018, "month": 6, "date": 22, "utc": true}}}},
{"data": {"name": "st"}, "mark": {"type": "line", "color": "#5a96e3", "strokeWidth": 0.9, "interpolate": "monotone"},
 "encoding": {"x": {"field": "d", "type": "temporal", "scale": {"type": "utc", "domain": [{"year": 2015, "month": 2, "date": 25, "utc": true}, {"year": 2018, "month": 6, "date": 22, "utc": true}], "range": [0, 598], "nice": false}, "axis": null}, "y": {"field": "k", "type": "quantitative", "scale": {"domain": [-10, 106], "range": [285, 240], "nice": false, "zero": false}, "axis": null}}},
{"data": {"name": "st"}, "mark": {"type": "line", "color": "#ef6f45", "strokeWidth": 0.9, "interpolate": "monotone"},
 "encoding": {"x": {"field": "d", "type": "temporal", "scale": {"type": "utc", "domain": [{"year": 2015, "month": 2, "date": 25, "utc": true}, {"year": 2018, "month": 6, "date": 22, "utc": true}], "range": [0, 598], "nice": false}, "axis": null}, "y": {"field": "dd", "type": "quantitative", "scale": {"domain": [-10, 106], "range": [285, 240], "nice": false, "zero": false}, "axis": null}}},

{"data": {"name": "q"}, "mark": {"type": "rule", "color": "#e8ebf0", "strokeWidth": 1},
 "encoding": {
  "x": {"field": "d", "type": "temporal", "scale": {"type": "utc", "domain": [{"year": 2015, "month": 2, "date": 25, "utc": true}, {"year": 2018, "month": 6, "date": 22, "utc": true}], "range": [0, 598], "nice": false},
        "axis": {"orient": "bottom", "offset": -10, "values": [{"year": 2017, "month": 1, "date": 1, "utc": true}, {"year": 2017, "month": 4, "date": 1, "utc": true}, {"year": 2017, "month": 7, "date": 1, "utc": true}, {"year": 2017, "month": 10, "date": 1, "utc": true}, {"year": 2018, "month": 1, "date": 1, "utc": true}, {"year": 2018, "month": 4, "date": 1, "utc": true}],
                 "labelExpr": "utcmonth(datum.value) == 0 ? utcFormat(datum.value, '%Y') : utcmonth(datum.value) == 3 ? 'Abr' : utcmonth(datum.value) == 6 ? 'Jul' : 'Out'",
                 "domain": true, "domainColor": "#9aa0a8", "ticks": true, "tickSize": 2, "tickColor": "#9aa0a8", "labelFontSize": 6, "labelColor": "#555555", "labelPadding": 1, "grid": false, "title": null, "labelOverlap": false}},
  "y": {"datum": 1500, "type": "quantitative", "scale": {"domain": [-1033, 1500], "range": [323, 285], "nice": false, "zero": false}, "axis": null},
  "y2": {"datum": -1033}
 }},
{"data": {"name": "mc"}, "mark": {"type": "bar", "orient": "vertical", "size": 3.5, "color": "#3a3a3a"},
 "encoding": {
  "x": {"field": "d", "type": "temporal", "scale": {"type": "utc", "domain": [{"year": 2015, "month": 2, "date": 25, "utc": true}, {"year": 2018, "month": 6, "date": 22, "utc": true}], "range": [0, 598], "nice": false}, "axis": null},
  "y": {"field": "h", "type": "quantitative", "scale": {"domain": [-1033, 1500], "range": [323, 285], "nice": false, "zero": false},
        "axis": {"orient": "right", "offset": -28, "values": [-1000, 0, 1000], "format": ".4f", "title": null, "grid": false, "domain": true, "domainColor": "#9aa0a8", "ticks": true, "tickSize": 2, "tickColor": "#9aa0a8", "labelFontSize": 6, "labelColor": "#555555", "labelPadding": 1, "labelOverlap": false, "labelBound": false, "labelFlush": false}},
  "y2": {"datum": 0}
 }},
{"data": {"name": "mc"}, "mark": {"type": "line", "color": "#222222", "strokeWidth": 1.8, "interpolate": "monotone"},
 "encoding": {"x": {"field": "d", "type": "temporal", "scale": {"type": "utc", "domain": [{"year": 2015, "month": 2, "date": 25, "utc": true}, {"year": 2018, "month": 6, "date": 22, "utc": true}], "range": [0, 598], "nice": false}, "axis": null}, "y": {"field": "s", "type": "quantitative", "scale": {"domain": [-1033, 1500], "range": [323, 285], "nice": false, "zero": false}, "axis": null}}},
{"data": {"name": "mc"}, "mark": {"type": "line", "color": "#ffffff", "strokeWidth": 0.7, "interpolate": "monotone"},
 "encoding": {"x": {"field": "d", "type": "temporal", "scale": {"type": "utc", "domain": [{"year": 2015, "month": 2, "date": 25, "utc": true}, {"year": 2018, "month": 6, "date": 22, "utc": true}], "range": [0, 598], "nice": false}, "axis": null}, "y": {"field": "s", "type": "quantitative", "scale": {"domain": [-1033, 1500], "range": [323, 285], "nice": false, "zero": false}, "axis": null}}},
{"data": {"values": [{"d": "2017-11-05", "v": 700, "t": "▼"}]}, "mark": {"type": "text", "align": "center", "baseline": "middle", "fontSize": 6, "color": "#111111"},
 "encoding": {"x": {"field": "d", "type": "temporal", "scale": {"type": "utc", "domain": [{"year": 2015, "month": 2, "date": 25, "utc": true}, {"year": 2018, "month": 6, "date": 22, "utc": true}], "range": [0, 598], "nice": false}, "axis": null}, "y": {"field": "v", "type": "quantitative", "scale": {"domain": [-1033, 1500], "range": [323, 285], "nice": false, "zero": false}, "axis": null}, "text": {"field": "t"}}},

{"data": {"values": [{}]}, "mark": {"type": "rect", "fill": "#ffffff", "stroke": "#333333", "strokeWidth": 1},
 "encoding": {
  "x": {"datum": -0.77, "type": "quantitative", "scale": {"domain": [-0.4, 106.2], "range": [1, 278], "nice": false, "zero": false}, "axis": null},
  "x2": {"datum": 113.1},
  "y": {"datum": 63250, "type": "quantitative", "scale": {"domain": [63250, 78740], "range": [350, 161], "nice": false, "zero": false}, "axis": null},
  "y2": {"datum": 78740}
 }},
{"data": {"name": "ig"}, "mark": {"type": "rule", "color": "#eceef2", "strokeWidth": 1},
 "encoding": {
  "y": {"field": "p", "type": "quantitative", "scale": {"domain": [63250, 78740], "range": [350, 161], "nice": false, "zero": false},
        "axis": {"orient": "right", "offset": -348, "values": [64000,66000,68000,70000,72000,74000,76000,78000], "format": ".2f", "title": null, "grid": false, "domain": true, "domainColor": "#666666", "ticks": true, "tickSize": 1.5, "tickColor": "#999999", "labelFontSize": 4, "labelColor": "#444444", "labelPadding": 1, "zindex": 1, "labelOverlap": false, "labelBound": false, "labelFlush": false}},
  "x": {"datum": -0.4, "type": "quantitative", "scale": {"domain": [-0.4, 106.2], "range": [1, 278], "nice": false, "zero": false}, "axis": null},
  "x2": {"datum": 106.2}
 }},
{"data": {"name": "ix"}, "mark": {"type": "rule", "color": "#eceef2", "strokeWidth": 1},
 "encoding": {
  "x": {"field": "n", "type": "quantitative", "scale": {"domain": [-0.4, 106.2], "range": [1, 278], "nice": false, "zero": false}, "axis": null},
  "y": {"datum": 63250, "type": "quantitative", "scale": {"domain": [63250, 78740], "range": [350, 161], "nice": false, "zero": false}, "axis": null},
  "y2": {"datum": 78740}
 }},
{"data": {"name": "ima"}, "mark": {"type": "line", "color": "#6a6fc2", "strokeWidth": 0.8, "interpolate": "monotone"},
 "encoding": {"x": {"field": "n", "type": "quantitative", "scale": {"domain": [-0.4, 106.2], "range": [1, 278], "nice": false, "zero": false}, "axis": null}, "y": {"field": "v", "type": "quantitative", "scale": {"domain": [63250, 78740], "range": [350, 161], "nice": false, "zero": false}, "axis": null}}},
{"data": {"values": [{"g": "t", "n": 31.2, "p": 70790}, {"g": "t", "n": 83.8, "p": 76530}, {"g": "b", "n": 33.1, "p": 63250}, {"g": "b", "n": 106.2, "p": 66690}]},
 "mark": {"type": "line", "color": "#222222", "strokeWidth": 0.8},
 "encoding": {"x": {"field": "n", "type": "quantitative", "scale": {"domain": [-0.4, 106.2], "range": [1, 278], "nice": false, "zero": false}, "axis": null}, "y": {"field": "p", "type": "quantitative", "scale": {"domain": [63250, 78740], "range": [350, 161], "nice": false, "zero": false}, "axis": null}, "detail": {"field": "g"}}},
{"data": {"values": [{"g": "u", "n": 67.7, "p": 76930}, {"g": "u", "n": 91.9, "p": 78570}, {"g": "v", "n": 70.8, "p": 75460}, {"g": "v", "n": 73.5, "p": 73650}]},
 "mark": {"type": "line", "color": "#666666", "strokeWidth": 0.7, "strokeDash": [2, 2]},
 "encoding": {"x": {"field": "n", "type": "quantitative", "scale": {"domain": [-0.4, 106.2], "range": [1, 278], "nice": false, "zero": false}, "axis": null}, "y": {"field": "p", "type": "quantitative", "scale": {"domain": [63250, 78740], "range": [350, 161], "nice": false, "zero": false}, "axis": null}, "detail": {"field": "g"}}},
{"data": {"name": "dl"}, "mark": {"type": "rule", "color": "#111111", "strokeWidth": 0.6},
 "encoding": {"x": {"field": "n", "type": "quantitative", "scale": {"domain": [-0.4, 106.2], "range": [1, 278], "nice": false, "zero": false}, "axis": null}, "y": {"field": "l", "type": "quantitative", "scale": {"domain": [63250, 78740], "range": [350, 161], "nice": false, "zero": false}, "axis": null}, "y2": {"field": "h"}}},
{"data": {"name": "dl"}, "mark": {"type": "bar", "orient": "vertical", "size": 1.8, "stroke": "#111111", "strokeWidth": 0.4},
 "encoding": {"x": {"field": "n", "type": "quantitative", "scale": {"domain": [-0.4, 106.2], "range": [1, 278], "nice": false, "zero": false}, "axis": null}, "y": {"field": "o", "type": "quantitative", "scale": {"domain": [63250, 78740], "range": [350, 161], "nice": false, "zero": false}, "axis": null}, "y2": {"field": "c"},
  "fill": {"condition": {"test": "datum.c >= datum.o", "value": "#ffffff"}, "value": "#111111"}}},
{"data": {"values": [{"n": 91.9, "p": 78570, "a": 72.4, "k": "d"}, {"n": 73.5, "p": 73650, "a": 163, "k": "d"}, {"n": 83.8, "p": 76530, "a": 63, "k": "s"}]}, "mark": {"type": "point", "shape": "M-0.8,1.2L0,0L0.8,1.2", "size": 30, "filled": false, "strokeWidth": 0.7, "opacity": 1},
 "encoding": {"x": {"field": "n", "type": "quantitative", "scale": {"domain": [-0.4, 106.2], "range": [1, 278], "nice": false, "zero": false}, "axis": null}, "y": {"field": "p", "type": "quantitative", "scale": {"domain": [63250, 78740], "range": [350, 161], "nice": false, "zero": false}, "axis": null}, "angle": {"field": "a", "type": "quantitative", "scale": null},
  "stroke": {"field": "k", "type": "nominal", "scale": {"domain": ["d", "s"], "range": ["#666666", "#222222"]}, "legend": null}}},
{"data": {"values": [{"n": 0, "p": 78330, "t": "Abr:76671.13  Máx:77060.71  Mín:75813.16  Fch:75896.35"}, {"n": 45, "p": 78330, "t": "Data Provided by ICE Data services"}, {"n": 93.5, "p": 78330, "t": "▸ Mercado Fechado"}]},
 "mark": {"type": "text", "align": "left", "baseline": "middle", "fontSize": 4.2, "color": "#444444"},
 "encoding": {"x": {"field": "n", "type": "quantitative", "scale": {"domain": [-0.4, 106.2], "range": [1, 278], "nice": false, "zero": false}, "axis": null}, "y": {"field": "p", "type": "quantitative", "scale": {"domain": [63250, 78740], "range": [350, 161], "nice": false, "zero": false}, "axis": null}, "text": {"field": "t"}}},
{"data": {"values": [{"n": 74.6, "p": 74880, "t": "75.000"}]},
 "mark": {"type": "text", "align": "left", "baseline": "middle", "fontSize": 5, "color": "#444444"},
 "encoding": {"x": {"field": "n", "type": "quantitative", "scale": {"domain": [-0.4, 106.2], "range": [1, 278], "nice": false, "zero": false}, "axis": null}, "y": {"field": "p", "type": "quantitative", "scale": {"domain": [63250, 78740], "range": [350, 161], "nice": false, "zero": false}, "axis": null}, "text": {"field": "t"}}},
{"data": {"values": [{"v": 75896.35}]}, "mark": {"type": "bar", "orient": "horizontal", "size": 7, "color": "#111111"},
 "encoding": {"y": {"field": "v", "type": "quantitative", "scale": {"domain": [63250, 78740], "range": [350, 161], "nice": false, "zero": false}, "axis": null}, "x": {"datum": 107.3, "type": "quantitative", "scale": {"domain": [-0.4, 106.2], "range": [1, 278], "nice": false, "zero": false}, "axis": null}, "x2": {"datum": 113.0}}},
{"data": {"values": [{"v": 75896.35, "t": "75896.35"}]}, "mark": {"type": "text", "align": "center", "baseline": "middle", "fontSize": 4, "color": "#ffffff"},
 "encoding": {"y": {"field": "v", "type": "quantitative", "scale": {"domain": [63250, 78740], "range": [350, 161], "nice": false, "zero": false}, "axis": null}, "x": {"datum": 110.15, "type": "quantitative", "scale": {"domain": [-0.4, 106.2], "range": [1, 278], "nice": false, "zero": false}, "axis": null}, "text": {"field": "t"}}}
],
"resolve": {"scale": {"x": "independent", "y": "independent", "angle": "independent", "stroke": "independent"}, "axis": {"x": "independent", "y": "independent"}}
}
